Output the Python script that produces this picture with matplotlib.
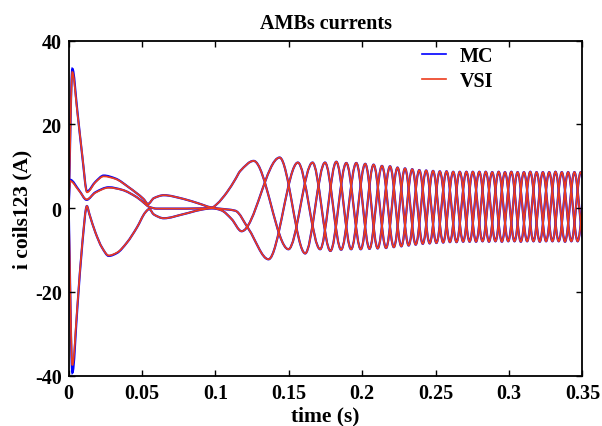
import matplotlib
matplotlib.use('Agg')
import matplotlib.pyplot as plt
from matplotlib.path import Path
from matplotlib.patches import PathPatch
from matplotlib.lines import Line2D

plt.rcParams['font.family'] = ['Liberation Serif', 'DejaVu Serif']
plt.rcParams['font.weight'] = 'bold'
plt.rcParams['axes.titleweight'] = 'bold'
plt.rcParams['axes.labelweight'] = 'bold'
plt.rcParams['axes.unicode_minus'] = False

# start-up transient of the three coil currents (time in s, current in A)
t_a = [0.0, 0.0025, 0.0059, 0.0093, 0.0125, 0.0182, 0.0239, 0.0318, 0.0409, 0.0510,
       0.0540, 0.0580, 0.0648, 0.0784, 0.0897, 0.0977, 0.1010, 0.1078, 0.1135, 0.1169]
a_vsi = [0.0, 32.5, 22.9, 12.5, 3.8, 6.2, 7.6, 7.0, 5.0, 2.2,
         1.0, 2.4, 3.1, 2.2, 1.0, 0.2, 1.0, 3.8, 6.9, 8.9]
a_mc = [0.0, 33.3, 23.2, 12.3, 4.0, 6.3, 7.8, 7.1, 5.0, 2.2,
        1.0, 2.4, 3.1, 2.2, 1.0, 0.2, 1.0, 3.8, 6.9, 8.9]

t_b = [0.0, 0.0025, 0.0059, 0.0093, 0.0124, 0.0141, 0.0182, 0.0227, 0.0273, 0.0329,
       0.0397, 0.0465, 0.0522, 0.0549, 0.0580, 0.0648, 0.0784, 0.0897, 0.0977, 0.1040,
       0.1110]
b_vsi = [0.0, -37.5, -23.4, -8.2, 0.5, -1.4, -5.8, -9.4, -11.3, -10.6,
         -8.2, -4.6, -1.0, -0.2, -1.5, -2.4, -1.4, -0.4, 0.0, -0.5,
         -2.6]
b_mc = [0.0, -39.3, -23.8, -8.4, 0.5, -1.4, -5.8, -9.4, -11.4, -10.7,
        -8.2, -4.6, -1.0, -0.2, -1.5, -2.4, -1.4, -0.4, 0.0, -0.5,
        -2.6]

t_c = [0.0, 0.0009, 0.0072, 0.0122, 0.0182, 0.0273, 0.0363, 0.0465, 0.0522, 0.0549,
       0.0600, 0.0800, 0.0977, 0.1080, 0.1135, 0.1226]
c_vsi = [0.0, 6.5, 4.1, 2.1, 3.7, 4.9, 4.4, 2.6, 1.0, 0.3,
         -0.1, -0.1, 0.0, -0.3, -0.6, -5.0]
c_mc = [0.0, 6.8, 4.2, 2.0, 3.8, 5.0, 4.4, 2.6, 1.0, 0.3,
        -0.1, -0.1, 0.0, -0.3, -0.6, -5.0]

# oscillating part: upper peaks and lower troughs, phases take turns
peak_t = [0.1260, 0.1437, 0.1561, 0.1661, 0.1746, 0.1823, 0.1891, 0.1959, 0.2020, 0.2077,
          0.2134, 0.2189, 0.2240, 0.2291, 0.2340, 0.2388, 0.2435, 0.2482, 0.2528, 0.2574,
          0.2619, 0.2664, 0.2709, 0.2753, 0.2797, 0.2841, 0.2885, 0.2929, 0.2972, 0.3015,
          0.3058, 0.3101, 0.3144, 0.3187, 0.3230, 0.3273, 0.3316, 0.3359, 0.3402, 0.3445,
          0.3488, 0.3531, 0.3574]
peak_v = [11.3, 12.1, 10.9, 10.9, 10.9, 11.1, 10.8, 10.8, 10.6, 10.4,
          10.1, 10.0, 9.7, 9.5, 9.3, 9.1, 9.0, 8.9, 8.8, 8.8,
          8.7, 8.7, 8.7, 8.7, 8.7, 8.7, 8.6, 8.7, 8.6, 8.7,
          8.6, 8.6, 8.7, 8.6, 8.6, 8.6, 8.7, 8.6, 8.6, 8.6,
          8.6, 8.6, 8.6]
trough_t = [0.1178, 0.1361, 0.1497, 0.1611, 0.1713, 0.1783, 0.1856, 0.1924, 0.1990, 0.2049,
            0.2105, 0.2162, 0.2215, 0.2266, 0.2316, 0.2364, 0.2412, 0.2459, 0.2505, 0.2551,
            0.2597, 0.2642, 0.2687, 0.2731, 0.2775, 0.2819, 0.2863, 0.2907, 0.2951, 0.2994,
            0.3037, 0.3080, 0.3123, 0.3166, 0.3209, 0.3252, 0.3295, 0.3338, 0.3381, 0.3424,
            0.3467, 0.3510, 0.3553, 0.3596]
trough_v = [-5.5, -12.2, -9.8, -10.8, -9.8, -10.2, -9.9, -9.8, -9.8, -9.7,
            -9.6, -9.5, -9.3, -9.1, -8.9, -8.7, -8.5, -8.4, -8.3, -8.2,
            -8.1, -8.1, -8.0, -8.0, -8.0, -7.9, -8.0, -7.9, -8.0, -7.9,
            -7.9, -8.0, -7.9, -7.9, -8.0, -7.9, -7.9, -7.9, -8.0, -7.9,
            -7.9, -7.9, -7.9, -7.9]


def phase_points(k, t0, v0):
    # peaks i belong to phase i % 3, troughs j to phase (j + 1) % 3
    pts = list(zip(peak_t[k::3], peak_v[k::3])) + \
        list(zip(trough_t[(k + 2) % 3::3], trough_v[(k + 2) % 3::3]))
    pts.sort()
    return list(t0) + [p[0] for p in pts], list(v0) + [p[1] for p in pts]


def smooth_path(t, v):
    # cubic bezier through the read points, monotone tangents
    n = len(t)
    d = [(v[i + 1] - v[i]) / (t[i + 1] - t[i]) for i in range(n - 1)]
    m = [d[0]]
    for i in range(1, n - 1):
        if d[i - 1] * d[i] <= 0:
            m.append(0.0)
        else:
            m.append(2.0 / (1.0 / d[i - 1] + 1.0 / d[i]))
    m.append(d[-1])
    verts = [(t[0], v[0])]
    codes = [Path.MOVETO]
    for i in range(n - 1):
        h = (t[i + 1] - t[i]) / 3.0
        verts += [(t[i] + h, v[i] + m[i] * h),
                  (t[i + 1] - h, v[i + 1] - m[i + 1] * h),
                  (t[i + 1], v[i + 1])]
        codes += [Path.CURVE4] * 3
    return Path(verts, codes)


blue = '#0000ff'
red = '#ec3c1c'

fig = plt.figure(figsize=(6.02, 4.27), dpi=100)
ax = fig.add_axes([0.1141, 0.1178, 0.8535, 0.7845])

starts = [(t_a, a_mc, a_vsi), (t_b, b_mc, b_vsi), (t_c, c_mc, c_vsi)]
for k, (t0, mc0, vsi0) in enumerate(starts):
    tt, vv = phase_points(k, t0, mc0)
    ax.add_patch(PathPatch(smooth_path(tt, vv), fill=False, edgecolor=blue, lw=1.6))
for k, (t0, mc0, vsi0) in enumerate(starts):
    tt, vv = phase_points(k, t0, vsi0)
    ax.add_patch(PathPatch(smooth_path(tt, vv), fill=False, edgecolor=red, lw=1.25))

ax.set_xlim(0, 0.35)
ax.set_ylim(-40, 40)
ax.set_xticks([0, 0.05, 0.1, 0.15, 0.2, 0.25, 0.3, 0.35])
ax.set_xticklabels(['0', '0.05', '0.1', '0.15', '0.2', '0.25', '0.3', '0.35'])
ax.set_yticks([-40, -20, 0, 20, 40])
ax.tick_params(direction='in', top=True, right=True, length=4, width=1,
               labelsize=14.5, pad=5)
for s in ax.spines.values():
    s.set_linewidth(1.3)

ax.set_title('AMBs currents', fontsize=14.5, pad=9)
ax.set_xlabel('time (s)', fontsize=15.5, labelpad=2)
ax.set_ylabel('i coils123 (A)', fontsize=15.5, labelpad=2)

handles = [Line2D([], [], color=blue, lw=1.2), Line2D([], [], color=red, lw=1.2)]
ax.legend(handles, ['MC', 'VSI'], loc='upper left', bbox_to_anchor=(0.687, 0.985),
          frameon=False, fontsize=14.5, handlelength=1.2, handletextpad=0.7,
          labelspacing=0.25, borderpad=0, borderaxespad=0)

fig.savefig('out.png', dpi=100)
